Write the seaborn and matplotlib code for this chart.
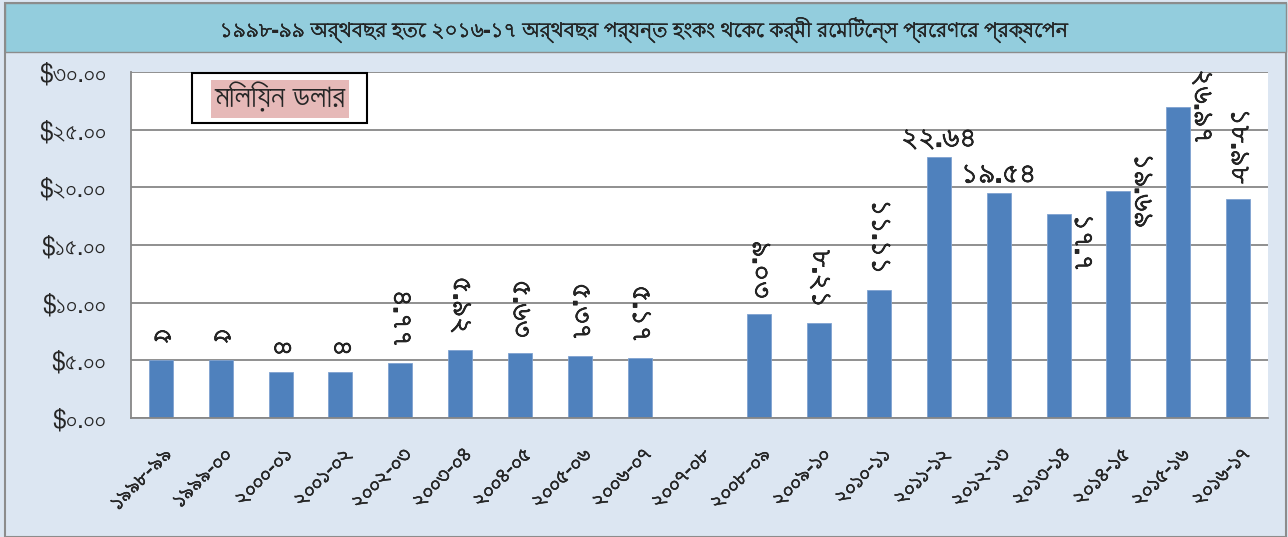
import numpy as np
import pandas as pd
import matplotlib
matplotlib.use("Agg")
import matplotlib.pyplot as plt
import matplotlib.patches as mpatches
import matplotlib.patheffects as pe
from matplotlib import font_manager
import seaborn as sns

# data
years = ["১৯৯৮-৯৯", "১৯৯৯-০০", "২০০০-০১", "২০০১-০২", "২০০২-০৩", "২০০৩-০৪",
         "২০০৪-০৫", "২০০৫-০৬", "২০০৬-০৭", "২০০৭-০৮", "২০০৮-০৯", "২০০৯-১০",
         "২০১০-১১", "২০১১-১২", "২০১২-১৩", "২০১৩-১৪", "২০১৪-১৫", "২০১৫-১৬", "২০১৬-১৭"]
remit = [5, 5, 4, 4, 4.77, 5.92, 5.63, 5.37, 5.17, np.nan, 9.03, 8.21,
         11.11, 22.64, 19.54, 17.7, 19.69, 26.97, 18.98]
bar_labels = ["৫", "৫", "৪", "৪", "৪.৭৭", "৫.৯২", "৫.৬৩", "৫.৩৭", "৫.১৭", "", "৯.০৩", "৮.২১",
              "১১.১১", "২২.৬৪", "১৯.৫৪", "১৭.৭", "১৯.৬৯", "২৬.৯৭", "১৮.৯৮"]
yticks = [0, 5, 10, 15, 20, 25, 30]
ytick_labels = ["$০.০০", "$৫.০০", "$১০.০০", "$১৫.০০", "$২০.০০", "$২৫.০০", "$৩০.০০"]
title = "১৯৯৮-৯৯ অর্থবছর হতে ২০১৬-১৭ অর্থবছর পর্যন্ত হংকং থেকে কর্মী রেমিটেন্স প্রেরণের প্রক্ষেপন"
unit_note = "মিলিয়ন ডলার"

df = pd.DataFrame({"year": years, "value": remit})

# pick a font that can draw Bengali, if there is one
names = sorted({f.name for f in font_manager.fontManager.ttflist})
beng = [n for n in names if "Bengali" in n or "Lohit" in n or "Vrinda" in n or "Kalpurush" in n
        or "SolaimanLipi" in n or "FreeSans" in n or "FreeSerif" in n]
sns.set_style("white")
plt.rcParams["font.family"] = beng + ["DejaVu Sans"]

heavy = [pe.withStroke(linewidth=0.5, foreground="black")]
light = [pe.withStroke(linewidth=0.3, foreground="black")]

fig = plt.figure(figsize=(12.88, 5.37), dpi=100, facecolor="#DCE6F2")
W, H = 1288, 537

# outer frame and title band
fig.patches.append(mpatches.Rectangle((5 / W, 0), 1281 / W, 534 / H, transform=fig.transFigure,
                                      facecolor="none", edgecolor="#8C8C8C", lw=1.5))
fig.patches.append(mpatches.Rectangle((5 / W, 1 - 52 / H), 1281 / W, 49 / H, transform=fig.transFigure,
                                      facecolor="#93CDDD", edgecolor="#8C8C8C", lw=1.0))
fig.text(0.5, 1 - 30 / H, title, ha="center", va="center", fontsize=14.5, fontweight="bold",
         path_effects=light)

ax = fig.add_axes([131 / W, 119 / H, 1137 / W, 346 / H])
sns.barplot(data=df, x="year", y="value", order=years, color="#4F81BD", width=0.4,
            saturation=1, edgecolor="#7FA2D0", linewidth=0.6, ax=ax)

ax.set_ylim(0, 30)
ax.set_xlim(-0.5, len(years) - 0.5)
ax.set_yticks(yticks)
ax.set_yticklabels(ytick_labels, fontsize=18)
ax.yaxis.grid(True, color="#878787", lw=1.3)
ax.set_axisbelow(True)
for s in ["top", "right"]:
    ax.spines[s].set_visible(False)
for s in ["left", "bottom"]:
    ax.spines[s].set_color("#878787")
    ax.spines[s].set_linewidth(1.3)
ax.tick_params(axis="y", length=8, color="#878787", width=1.3, pad=10)
ax.set_xticks(range(len(years)))
ax.set_xticklabels(years, rotation=45, ha="right", rotation_mode="anchor", fontsize=17)
for t in ax.get_xticklabels():
    t.set_path_effects(light)
ax.tick_params(axis="x", which="major", length=0, pad=18)
ax.set_xticks(np.arange(-0.5, len(years)), minor=True)
ax.tick_params(axis="x", which="minor", length=6, color="#878787", width=1.3)
ax.set_xlabel("")
ax.set_ylabel("")

# bar value labels
for i, (v, lab) in enumerate(zip(remit, bar_labels)):
    if not lab:
        continue
    kw = dict(textcoords="offset points", fontsize=19, fontweight="bold", path_effects=heavy)
    if i in (13, 14):
        ax.annotate(lab, (i, v), xytext=(0, 3), ha="center", va="bottom", **kw)
    elif i in (15, 16, 17):
        va = "top" if i == 15 else "center"
        ax.annotate(lab, (i + 0.2, v), xytext=(8, 0), ha="center", va=va, rotation=270, **kw)
    else:
        ax.annotate(lab, (i, v), xytext=(0, 11), ha="center", va="bottom", rotation=270, **kw)

# unit note box
fig.patches.append(mpatches.Rectangle((192 / W, 1 - 123 / H), 175 / W, 50 / H, transform=fig.transFigure,
                                      facecolor="white", edgecolor="black", lw=1.5, zorder=5))
fig.text(280 / W, 1 - 99 / H, unit_note, ha="center", va="center", fontsize=23, zorder=6,
         bbox=dict(boxstyle="square,pad=0.12", facecolor="#E6B9B8", edgecolor="none"))

fig.savefig("out.png", dpi=100, facecolor=fig.get_facecolor())
